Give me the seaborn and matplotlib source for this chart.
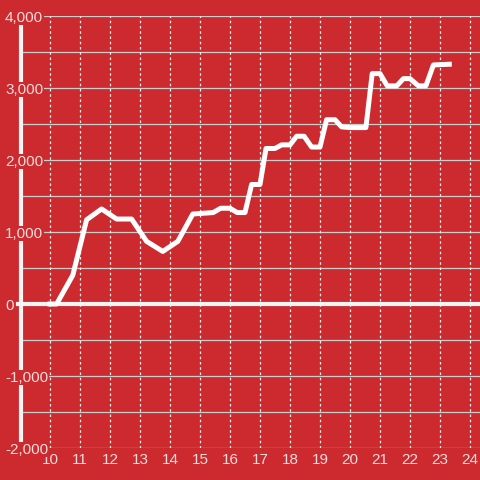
import matplotlib
matplotlib.use("Agg")
import matplotlib.pyplot as plt
import matplotlib.ticker as mticker
import seaborn as sns
import pandas as pd

# data
hours = [10.0, 10.22, 10.76, 11.22, 11.72, 12.22, 12.72, 13.22, 13.76, 14.26, 14.76,
         15.44, 15.69, 16.0, 16.24, 16.5, 16.72, 17.0, 17.2, 17.5, 17.72, 18.0,
         18.22, 18.47, 18.72, 19.0, 19.22, 19.5, 19.72, 20.0, 20.53, 20.74, 21.0,
         21.24, 21.56, 21.78, 22.0, 22.28, 22.53, 22.78, 23.31]
values = [0, 0, 400, 1170, 1320, 1180, 1180, 870, 730, 870, 1250,
          1270, 1330, 1330, 1270, 1270, 1660, 1660, 2160, 2160, 2210, 2210,
          2330, 2330, 2180, 2180, 2560, 2560, 2460, 2450, 2450, 3200, 3200,
          3030, 3030, 3130, 3130, 3030, 3030, 3320, 3330]
x_ticks = list(range(10, 25))
y_ticks = [-2000, -1000, 0, 1000, 2000, 3000, 4000]
y_grid = [-2000, -1500, -1000, -500, 0, 500, 1000, 1500, 2000, 2500, 3000, 3500, 4000]

BG = "#cc2a2e"
GRID = "#cccccc"
TXT = "#f3dcdc"

plt.rcParams['font.family'] = ['Liberation Sans', 'DejaVu Sans']

fig = plt.figure(figsize=(4.8, 4.8), dpi=100, facecolor=BG)
ax = fig.add_axes([0.0, 32 / 480, 1.0, (448 - 16) / 480])
ax.set_facecolor(BG)

df = pd.DataFrame({"hour": hours, "value": values})

ax.set_xlim(10 - 50 / 30, 24 + 10 / 30)
ax.set_ylim(-2000, 4000)

ax.yaxis.set_major_locator(mticker.FixedLocator(y_ticks))
ax.xaxis.set_major_locator(mticker.FixedLocator(x_ticks))
ax.yaxis.set_major_formatter(mticker.FuncFormatter(lambda v, p: f"{int(v):,}"))

# horizontal grid lines from the left axis line to the right edge
for yv in y_grid:
    ax.axhline(yv, xmin=21 / 480, color=GRID, lw=0.9, zorder=0.3)
# vertical dotted grid
ax.grid(axis="x", which="major", color="#f0f0f0", lw=0.9, ls=(0, (2, 2.2)))
ax.grid(axis="y", visible=False)
ax.set_axisbelow(True)

for s in ax.spines.values():
    s.set_visible(False)

# left white axis line (under tick labels) and zero line
x_spine = 10 - 29 / 30
ax.axvline(x_spine, color="#f4f4f4", lw=3, zorder=0.4)
ax.axhline(0, xmin=18 / 480, color="#f4f4f4", lw=3, zorder=2)

sns.lineplot(data=df, x="hour", y="value", ax=ax, color="white", lw=3.6,
             zorder=3)
ax.set_xlabel("")
ax.set_ylabel("")

ax.tick_params(axis="y", which="both", length=0, pad=-3.6, labelsize=11,
               labelcolor=TXT)
ax.tick_params(axis="x", length=0, pad=3.5, labelsize=11, labelcolor=TXT)
for lab in ax.get_yticklabels():
    lab.set_horizontalalignment("left")
    lab.set_bbox(dict(facecolor=BG, edgecolor="none", pad=0.6))

fig.savefig("out.png", dpi=100, facecolor=BG)
